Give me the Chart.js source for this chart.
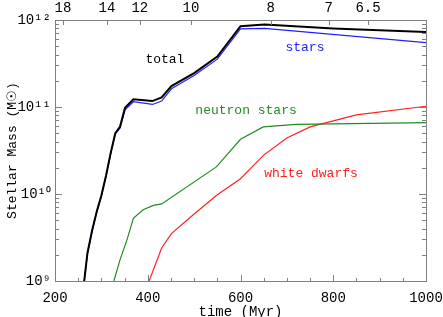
<!DOCTYPE html>
<html>
<head>
<meta charset="utf-8">
<script src="https://cdn.jsdelivr.net/npm/chart.js@4.4.0/dist/chart.umd.min.js"></script>
<style>
  html, body { margin: 0; padding: 0; background: #fff; }
  #wrap { width: 443px; height: 317px; }
</style>
</head>
<body>
<div id="wrap"><canvas id="massChart" width="443" height="317"></canvas></div>
<script>
// time (Myr) and stellar mass (Msun)
const totalTime = [263, 270, 280, 290, 300, 310, 320, 330, 340, 351, 369, 410, 430, 451, 500, 550, 600, 652, 800, 1000];
const totalMass = [1e9, 2.1e9, 3.8e9, 6.3e9, 9.6e9, 1.62e10, 2.95e10, 5.0e10, 5.9e10, 9.8e10, 1.23e11, 1.17e11, 1.29e11, 1.74e11, 2.45e11, 3.8e11, 8.5e11, 8.9e11, 8.0e11, 7.3e11];

const starsTime = [263, 270, 280, 290, 300, 310, 320, 330, 340, 351, 369, 410, 430, 451, 500, 550, 600, 652, 1000];
const starsMass = [1e9, 2.05e9, 3.75e9, 6.2e9, 9.4e9, 1.6e10, 2.9e10, 4.9e10, 5.7e10, 9.3e10, 1.15e11, 1.07e11, 1.17e11, 1.62e11, 2.3e11, 3.55e11, 7.9e11, 8.0e11, 5.5e11];

const nsTime = [327, 340, 355, 369, 390, 412, 430, 548, 600, 649, 720, 1000];
const nsMass = [1e9, 1.74e9, 2.95e9, 5.25e9, 6.6e9, 7.4e9, 7.7e9, 2.05e10, 4.25e10, 5.9e10, 6.3e10, 6.6e10];

const wdTime = [403, 430, 451, 500, 550, 600, 650, 700, 750, 850, 1000];
const wdMass = [1e9, 2.4e9, 3.5e9, 5.9e9, 9.8e9, 1.5e10, 2.8e10, 4.4e10, 5.9e10, 8.1e10, 1.02e11];

// top axis: redshift at given times
const redshiftTimes = [217, 312, 383, 493, 665, 790, 875];
const redshiftLabels = ['18', '14', '12', '10', '8', '7', '6.5'];

const yTickValues = [1e9, 1e10, 1e11, 1e12];
const yTickLabels = ['10⁹', '10¹⁰', '10¹¹', '10¹²'];

// curve labels (time, mass)
const labelNames = ['total', 'stars', 'neutron stars', 'white dwarfs'];
const labelTime = [437, 739, 612, 752];
const labelMass = [3.5e11, 4.8e11, 9.0e10, 1.7e10];
const labelColors = ['#000000', '#2020ff', '#228b22', '#ff2020'];

const FONT = 'Liberation Mono';
const axisGray = '#808080';

function toPoints(xs, ys) {
  return xs.map((x, i) => ({ x: x, y: ys[i] }));
}

// inward tick marks on all four sides + box
const frameTicks = {
  id: 'frameTicks',
  afterDraw(chart) {
    const { ctx, chartArea: a, scales } = chart;
    ctx.save();
    ctx.strokeStyle = axisGray;
    ctx.lineWidth = 1;
    ctx.strokeRect(a.left + 0.5, a.top + 0.5, a.right - a.left, a.bottom - a.top);
    ctx.beginPath();
    // bottom
    for (let t = 200; t <= 1000; t += 50) {
      const px = Math.round(scales.x.getPixelForValue(t)) + 0.5;
      const len = (t % 200 === 0) ? 6 : 3;
      ctx.moveTo(px, a.bottom);
      ctx.lineTo(px, a.bottom - len);
    }
    // top (redshift)
    redshiftTimes.forEach(t => {
      const px = Math.round(scales.x2.getPixelForValue(t)) + 0.5;
      ctx.moveTo(px, a.top);
      ctx.lineTo(px, a.top + 5);
    });
    // left and right (log)
    for (let d = 9; d < 12; d++) {
      for (let m = 1; m <= 9; m++) {
        const v = m * Math.pow(10, d);
        const py = Math.round(scales.y.getPixelForValue(v)) + 0.5;
        const len = m === 1 ? 7 : 4;
        ctx.moveTo(a.left, py); ctx.lineTo(a.left + len, py);
        ctx.moveTo(a.right, py); ctx.lineTo(a.right - len, py);
      }
    }
    ctx.stroke();

    // curve labels
    ctx.font = '13px "' + FONT + '"';
    ctx.textAlign = 'center';
    ctx.textBaseline = 'middle';
    labelNames.forEach((name, i) => {
      ctx.fillStyle = labelColors[i];
      ctx.fillText(name, scales.x.getPixelForValue(labelTime[i]), scales.y.getPixelForValue(labelMass[i]));
    });
    ctx.restore();
  }
};

const ctx = document.getElementById('massChart').getContext('2d');
new Chart(ctx, {
  type: 'line',
  data: {
    datasets: [
      { label: 'total', data: toPoints(totalTime, totalMass), borderColor: '#000000', borderWidth: 2 },
      { label: 'stars', data: toPoints(starsTime, starsMass), borderColor: '#2020ff', borderWidth: 1.2 },
      { label: 'neutron stars', data: toPoints(nsTime, nsMass), borderColor: '#228b22', borderWidth: 1.2 },
      { label: 'white dwarfs', data: toPoints(wdTime, wdMass), borderColor: '#ff2020', borderWidth: 1.2 }
    ]
  },
  options: {
    responsive: false,
    animation: false,
    layout: { padding: { left: 0, right: 17, top: 0, bottom: 0 } },
    elements: { point: { radius: 0 }, line: { tension: 0, fill: false } },
    plugins: { legend: { display: false }, tooltip: { enabled: false } },
    scales: {
      x: {
        type: 'linear',
        position: 'bottom',
        min: 200,
        max: 1000,
        grid: { display: false, drawTicks: false },
        border: { display: false },
        ticks: { stepSize: 200, color: '#000', font: { family: FONT, size: 14 }, padding: 9, maxRotation: 0,
          callback: v => String(v) },
        title: { display: true, text: 'time (Myr)', color: '#000', font: { family: FONT, size: 14 }, padding: { top: 0, bottom: -4 } },
        afterFit: s => { s.height = 36; s.paddingLeft = 0; s.paddingRight = 0; }
      },
      x2: {
        type: 'linear',
        position: 'top',
        min: 200,
        max: 1000,
        grid: { display: false, drawTicks: false },
        border: { display: false },
        afterBuildTicks: s => { s.ticks = redshiftTimes.map(v => ({ value: v })); },
        ticks: { autoSkip: false, maxRotation: 0, color: '#000', font: { family: FONT, size: 14 }, padding: 3,
          callback: (v, i) => redshiftLabels[i] },
        afterFit: s => { s.height = 20; s.paddingLeft = 0; s.paddingRight = 0; }
      },
      y: {
        type: 'logarithmic',
        position: 'left',
        min: 1e9,
        max: 1e12,
        grid: { display: false, drawTicks: false },
        border: { display: false },
        afterBuildTicks: s => { s.ticks = yTickValues.map(v => ({ value: v })); },
        ticks: { autoSkip: false, color: '#000', font: { family: FONT, size: 14 }, padding: 4,
          callback: (v, i) => yTickLabels[i] },
        title: { display: true, text: 'Stellar Mass (M☉)', color: '#000', font: { family: FONT, size: 13 }, padding: { top: 5, bottom: 0 } },
        afterFit: s => { s.width = 55; s.paddingTop = 0; s.paddingBottom = 0; }
      }
    }
  },
  plugins: [frameTicks]
});
</script>
</body>
</html>
